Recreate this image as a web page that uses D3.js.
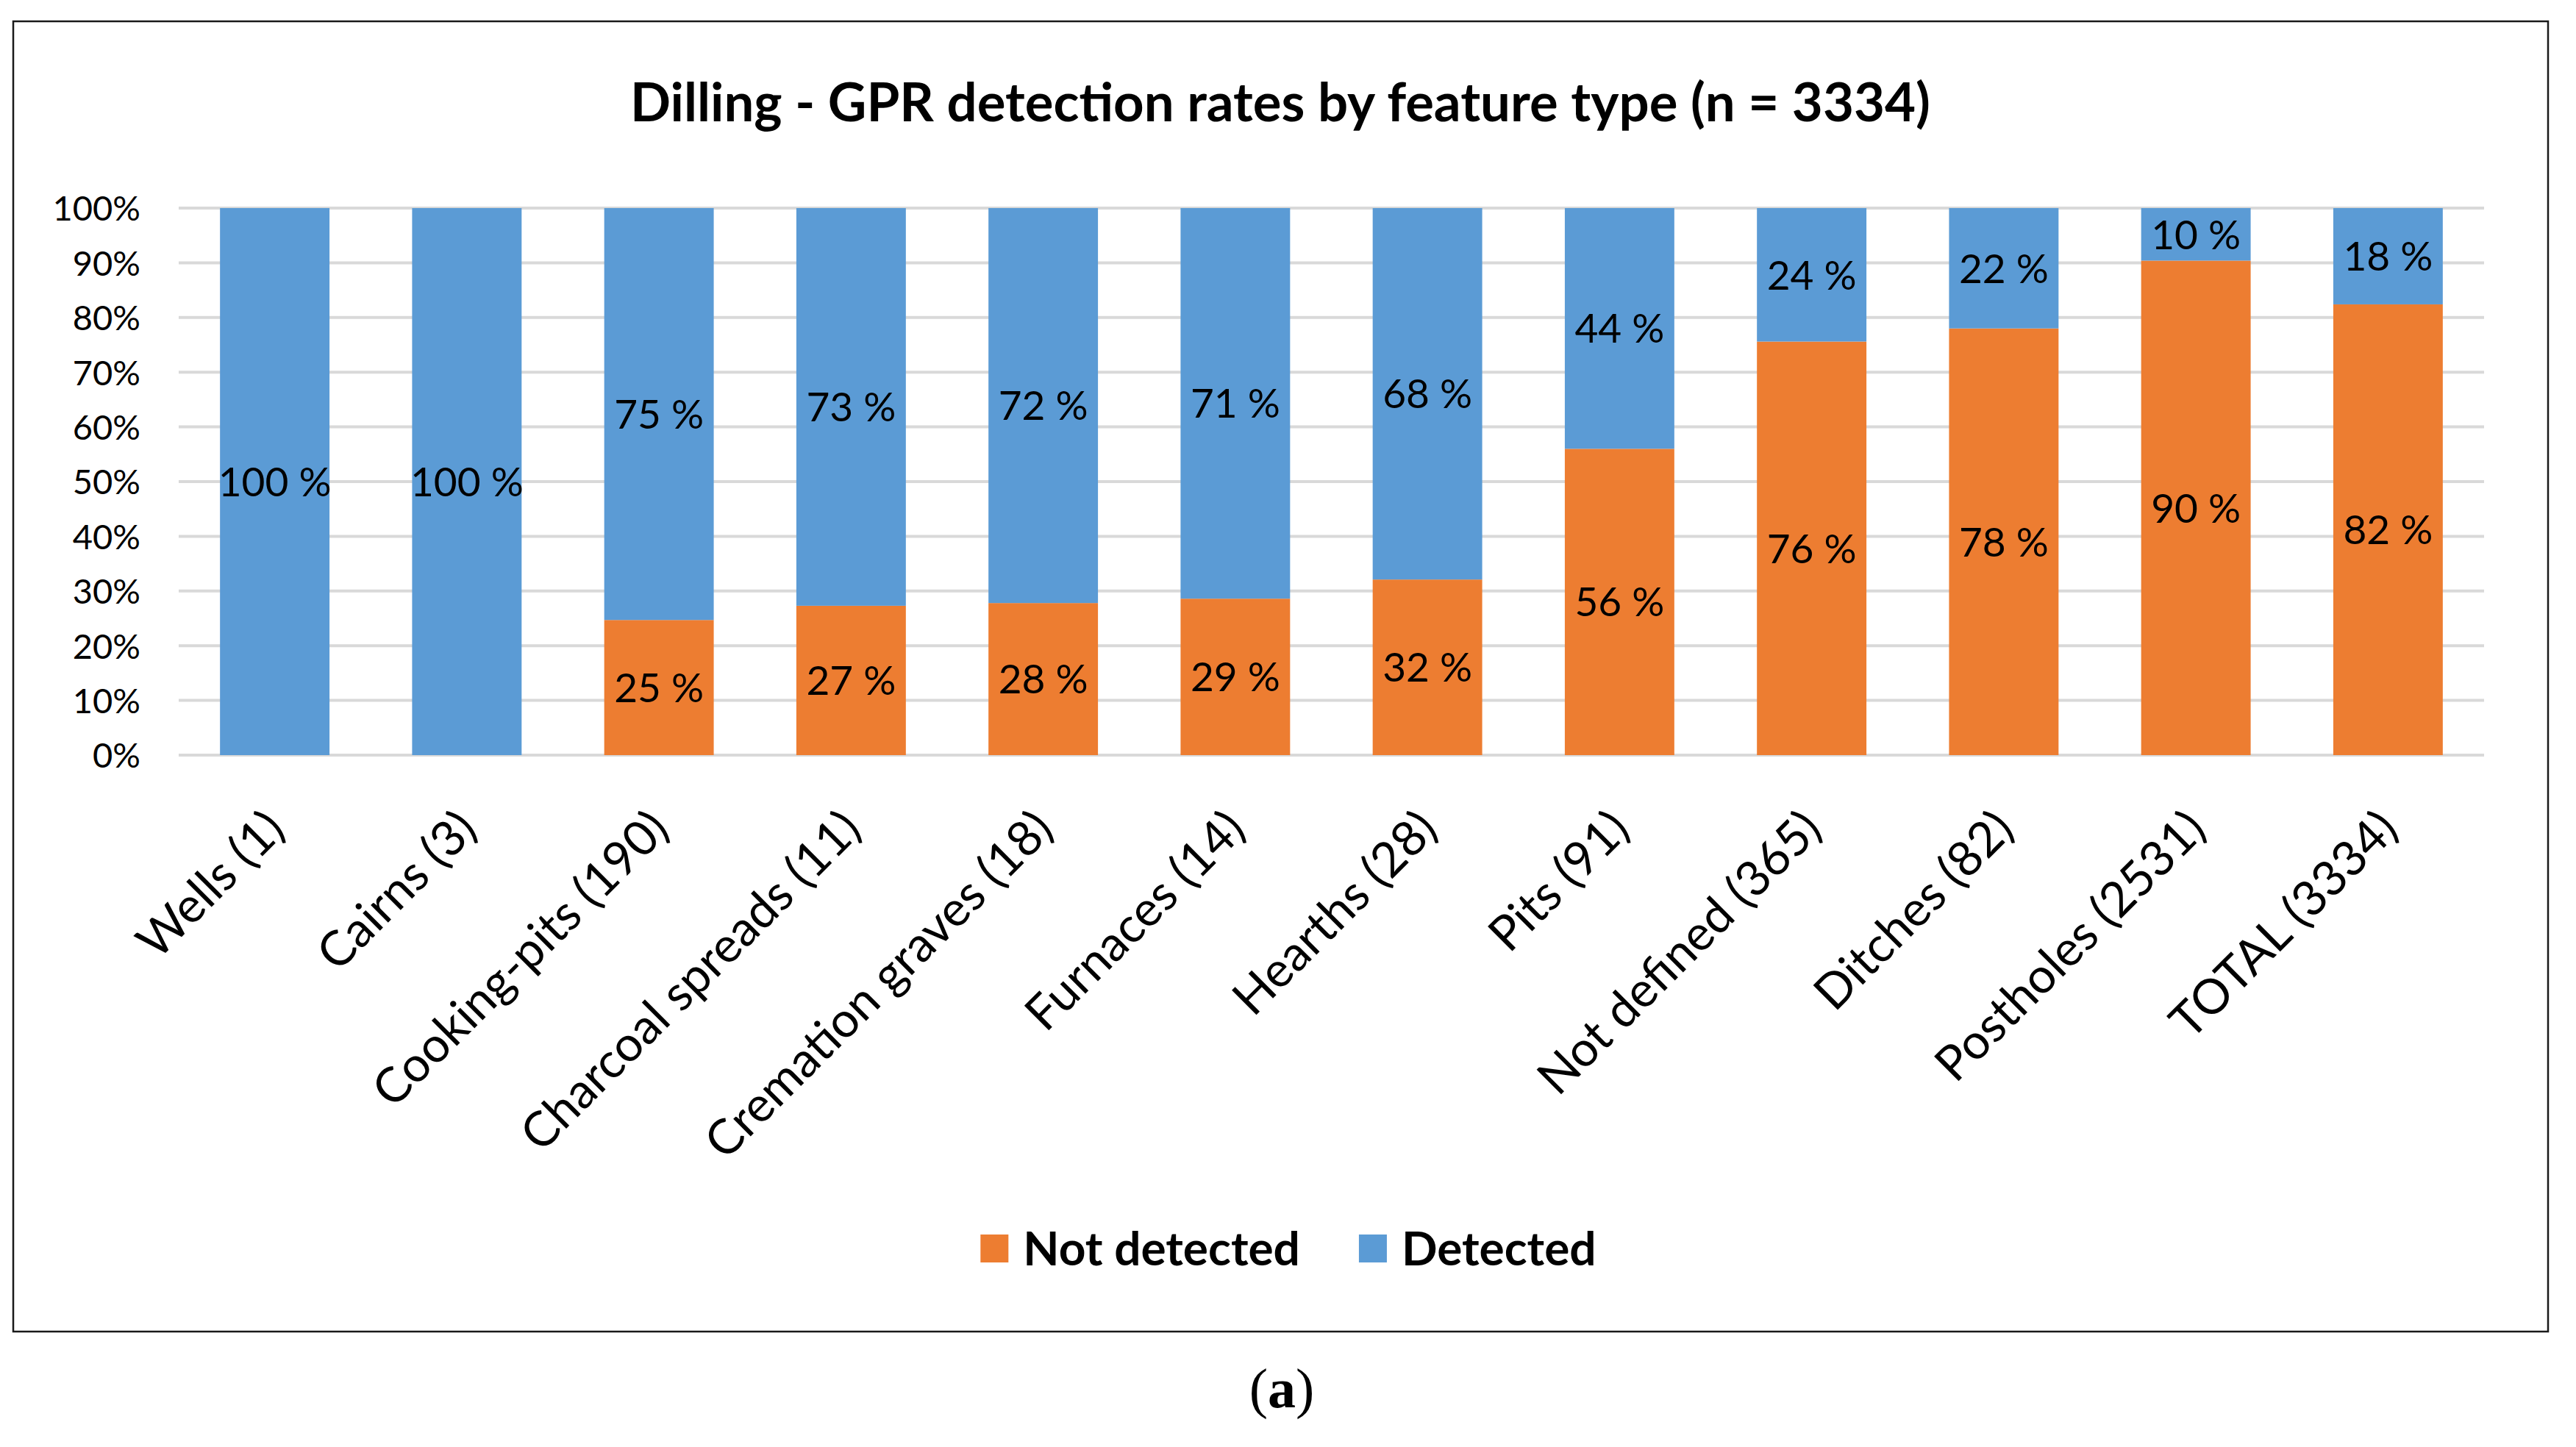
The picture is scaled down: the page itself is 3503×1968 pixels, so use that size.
<!DOCTYPE html>
<html>
<head>
<meta charset="utf-8">
<script src="https://cdn.jsdelivr.net/npm/d3@7"></script>
<style>
  html, body { margin: 0; padding: 0; background: #fff; }
  svg { display: block; }
  text { font-family: Lato, "Open Sans", sans-serif; fill: #000; }
</style>
</head>
<body>
<svg id="chart" width="3503" height="1968"></svg>
<script>
// ---- data ----
const categories = ["Wells (1)", "Cairns (3)", "Cooking-pits (190)", "Charcoal spreads (11)",
  "Cremation graves (18)", "Furnaces (14)", "Hearths (28)", "Pits (91)", "Not defined (365)",
  "Ditches (82)", "Postholes (2531)", "TOTAL (3334)"];
const notDetected = [0, 0, 24.7, 27.3, 27.8, 28.6, 32.1, 56.0, 75.6, 78.0, 90.4, 82.4];
const detected    = [100, 100, 75.3, 72.7, 72.2, 71.4, 67.9, 44.0, 24.4, 22.0, 9.6, 17.6];
const seriesNames = ["Not detected", "Detected"];
const seriesColors = ["#ED7D31", "#5B9BD5"];
const yTicks = [0, 10, 20, 30, 40, 50, 60, 70, 80, 90, 100];
const titleText = "Dilling - GPR detection rates by feature type (n = 3334)";

// ---- layout ----
const W = 3503, H = 1968;
const plot = { left: 243, right: 3378, top: 283, bottom: 1027 };
const svg = d3.select("#chart");

svg.append("rect").attr("width", W).attr("height", H).attr("fill", "#fff");
svg.append("rect").attr("x", 18).attr("y", 29).attr("width", 3447).attr("height", 1782)
  .attr("fill", "#fff").attr("stroke", "#1a1a1a").attr("stroke-width", 2.5);

const x = d3.scaleBand().domain(categories).range([plot.left, plot.right])
  .paddingInner(0.43).paddingOuter(0.215);
const y = d3.scaleLinear().domain([0, 100]).range([plot.bottom, plot.top]);

// gridlines
svg.append("g").selectAll("line").data(yTicks).join("line")
  .attr("x1", plot.left).attr("x2", plot.right)
  .attr("y1", d => y(d)).attr("y2", d => y(d))
  .attr("stroke", "#d9d9d9").attr("stroke-width", 4);

// y axis labels
const yAxis = svg.append("g").attr("transform", `translate(191,0)`)
  .call(d3.axisLeft(y).tickValues(yTicks).tickSize(0).tickPadding(0).tickFormat(d => d + "%"));
yAxis.select(".domain").remove();
yAxis.selectAll("text").attr("font-family", "Lato, sans-serif").attr("font-size", 47)
  .attr("fill", "#000").attr("dy", "0.36em");

// stacked bars
const rows = categories.map((c, i) => ({ cat: c, "Not detected": notDetected[i], "Detected": detected[i] }));
const stack = d3.stack().keys(seriesNames)(rows);
const groups = svg.append("g").selectAll("g").data(stack).join("g")
  .attr("fill", (d, i) => seriesColors[i]);
groups.selectAll("rect").data(d => d).join("rect")
  .attr("x", d => x(d.data.cat))
  .attr("width", x.bandwidth())
  .attr("y", d => y(d[1]))
  .attr("height", d => y(d[0]) - y(d[1]));

// data labels
const labels = svg.append("g");
stack.forEach(s => {
  s.forEach(d => {
    const v = d[1] - d[0];
    if (v <= 0) return;
    labels.append("text")
      .attr("x", x(d.data.cat) + x.bandwidth() / 2)
      .attr("y", y((d[0] + d[1]) / 2))
      .attr("dy", "0.36em")
      .attr("text-anchor", "middle")
      .attr("font-size", 55)
      .text(Math.round(v) + " %");
  });
});

// x axis labels
const xAxis = svg.append("g").attr("transform", `translate(0,1114)`)
  .call(d3.axisBottom(x).tickSize(0).tickPadding(0));
xAxis.select(".domain").remove();
xAxis.selectAll("text")
  .attr("font-family", "Lato, sans-serif").attr("font-size", 66).attr("fill", "#000")
  .attr("text-anchor", "end").attr("y", 0).attr("dy", "0.36em")
  .attr("transform", "rotate(-45)");

// title
svg.append("text").attr("x", 1741).attr("y", 165).attr("text-anchor", "middle")
  .attr("font-weight", "bold").attr("font-size", 72.5).text(titleText);

// legend
const legend = svg.append("g");
const items = seriesNames.map((n, i) => {
  const g = legend.append("g");
  g.append("rect").attr("width", 38).attr("height", 38).attr("y", -38 / 2).attr("fill", seriesColors[i]);
  const t = g.append("text").attr("x", 58).attr("dy", "0.36em").attr("font-size", 64)
    .attr("font-weight", "bold").text(n);
  return { g, w: 58 + t.node().getComputedTextLength() };
});
const gap = 80;
const total = items.reduce((a, b) => a + b.w, 0) + gap * (items.length - 1);
let lx = 1752 - total / 2;
items.forEach(it => { it.g.attr("transform", `translate(${lx},1698)`); lx += it.w + gap; });

// caption
const cap = svg.append("text").attr("x", 1743).attr("y", 1914).attr("text-anchor", "middle")
  .attr("font-size", 76)
  .style("font-family", "'Liberation Serif', 'DejaVu Serif', serif");
cap.append("tspan").text("(");
cap.append("tspan").attr("font-weight", "bold").text("a");
cap.append("tspan").text(")");
</script>
</body>
</html>
